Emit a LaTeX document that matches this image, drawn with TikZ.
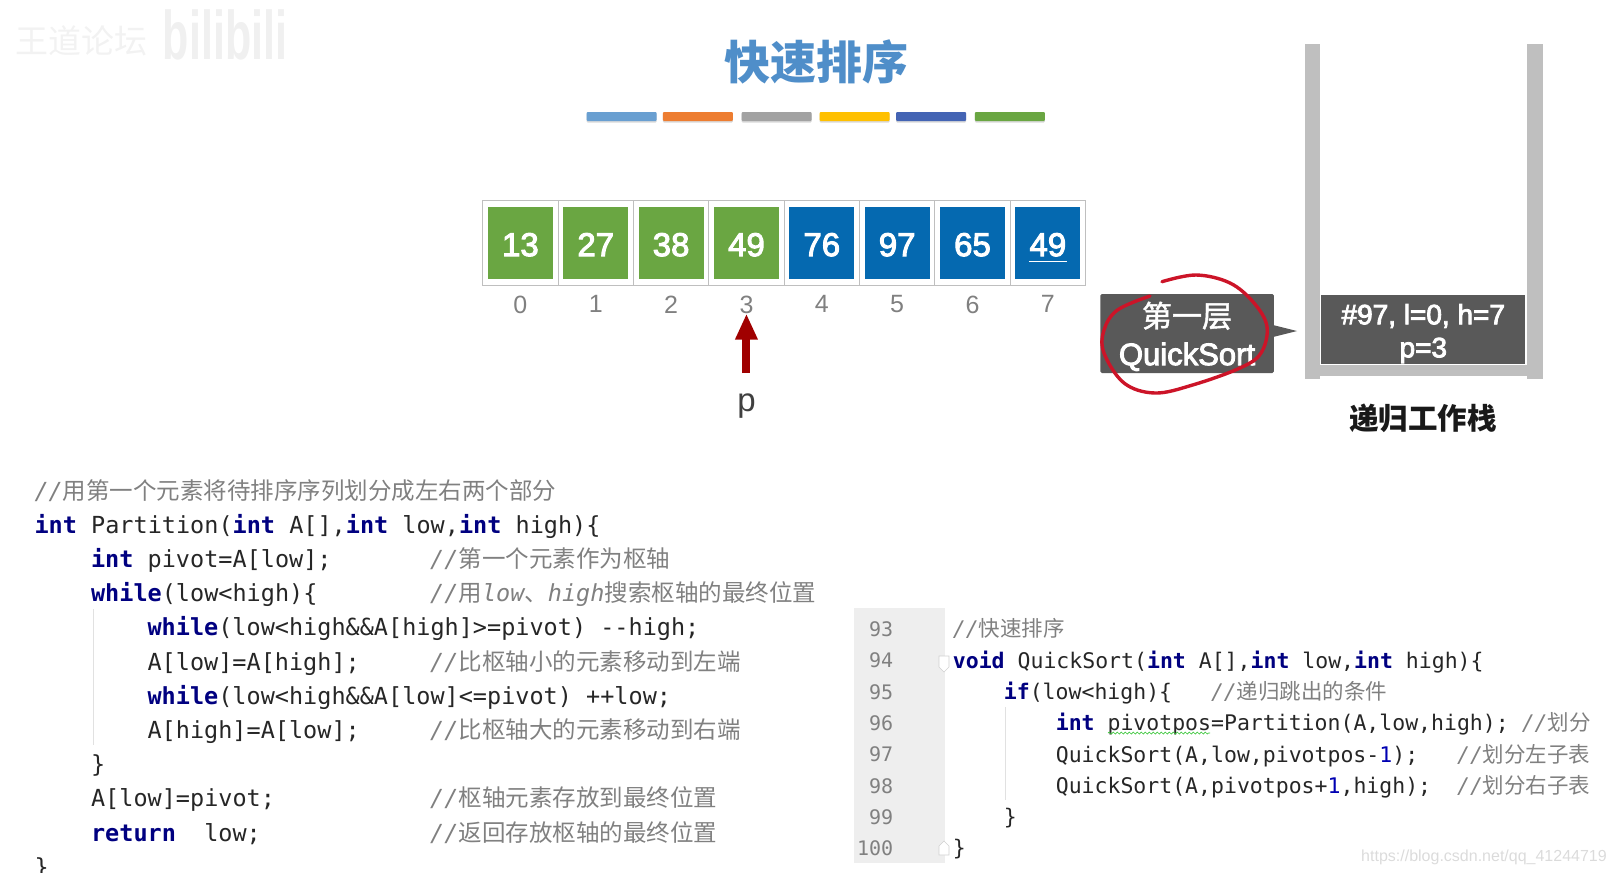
\documentclass[tikz,border=0pt]{standalone}
\usepackage{fontspec}
\setmainfont{Liberation Sans}
\setmonofont{DejaVu Sans Mono}
\newfontfamily\cjk{Noto Sans CJK SC}
\newfontfamily\semi[FakeBold=3]{Liberation Sans}
\newfontfamily\cjksemi[FakeBold=1.5]{Noto Sans CJK SC}
\usetikzlibrary{arrows.meta,positioning,shadows,decorations.pathmorphing}
\definecolor{TT}{RGB}{79,142,201}
\definecolor{GR}{RGB}{106,166,66}
\definecolor{BL}{RGB}{5,105,176}
\definecolor{DK}{RGB}{89,89,89}
\definecolor{WL}{RGB}{191,191,191}
\definecolor{RD}{RGB}{160,0,0}
\definecolor{PEN}{RGB}{204,20,40}
\definecolor{KW}{RGB}{0,0,128}
\definecolor{CM}{RGB}{128,128,128}
\definecolor{GUT}{RGB}{238,238,238}
\definecolor{GD}{RGB}{225,225,225}
\newcommand{\fs}[1]{\fontsize{#1}{#1}\selectfont}
\newcommand{\zh}[1]{{\cjk #1}}
\newcommand{\kw}[1]{{\bfseries\color{KW}#1}}
\newcommand{\cmt}[1]{{\color{CM}\itshape//\cjk #1}}
\tikzset{
  % array cells
  frm/.style={
    draw=black!25, fill=white, line width=0.8pt, outer sep=0pt,
    minimum width=75.35pt, minimum height=84.5pt, inner sep=0pt
  },
  valg/.style={
    fill=GR, minimum width=65pt, minimum height=72pt, inner sep=0pt,
    font=\semi\fs{33}, text=white, text height=26.6pt, text depth=0pt
  },
  valb/.style={valg, fill=BL},
  idx/.style={font=\fs{25}, text=CM, inner sep=0pt},
  % colour strip
  bar/.style={
    minimum width=70pt, minimum height=9pt, inner sep=0pt,
    rounded corners=1pt,
    drop shadow={shadow xshift=0pt, shadow yshift=-1.5pt, opacity=0.3}
  },
  % dark labels
  dkbox/.style={
    fill=DK, text=white, rounded corners=1.5pt, inner sep=0pt,
    align=center, font=\semi\fs{31}
  },
  wall/.style={fill=WL},
  % code lines
  code/.style={
    anchor=west, inner sep=0pt, text height=24pt, text depth=6pt,
    font=\ttfamily\fs{23.5}, text=black!85
  },
  rcode/.style={code, text height=21.7pt, font=\ttfamily\fs{21.5}},
  lno/.style={
    anchor=east, inner sep=0pt, text height=20pt, text depth=5pt,
    font=\ttfamily\fs{20}, text=CM
  },
  lineof/.style={below=34.2pt of #1, anchor=west},
  rlineof/.style={below=31.3pt of #1, anchor=west},
  nlineof/.style={below=31.3pt of #1, anchor=east},
  guide/.style={draw=GD, line width=0.8pt},
  fold/.style={draw=black!18, fill=white, line width=0.6pt},
}
\begin{document}
\begin{tikzpicture}[x=1pt, y=-1pt, node distance=0pt]
\useasboundingbox (0,0) rectangle (1615,873);

% ── Watermarks ───────────────────────────────────────────────────────────────
\node[font=\cjk\fs{33}, text=black!5] (wmA) at (82,41) {王道论坛};
\node[font=\bfseries\fs{43}, text=black!6, transform shape, yscale=1.6] (wmB) at (225,35) {bilibili};
\node[font=\fs{16}, text=black!14, inner sep=0pt] (wmC) at (1484,857) {https://blog.csdn.net/qq\_41244719};

% ── Title and strip ──────────────────────────────────────────────────────────
\node[font=\cjk\bfseries\fs{46}, text=TT] (title) at (816,62) {快速排序};
\node[bar, fill=TT!85!white] (b1) at (621.7,116.5) {};
\node[bar, fill={rgb,255:red,237;green,125;blue,49}, right=5.8pt of b1] (b2) {};
\node[bar, fill=WL!85!black, right=8.2pt of b2] (b3) {};
\node[bar, fill={rgb,255:red,255;green,192;blue,0}, right=7.6pt of b3] (b4) {};
\node[bar, fill={rgb,255:red,68;green,100;blue,180}, right=6.2pt of b4] (b5) {};
\node[bar, fill=GR, right=8.4pt of b5] (b6) {};

% ── Array ────────────────────────────────────────────────────────────────────
\node[frm] (f0) at (520.4,242.8) {};
\node[frm, right=of f0] (f1) {};
\node[frm, right=of f1] (f2) {};
\node[frm, right=of f2] (f3) {};
\node[frm, right=of f3] (f4) {};
\node[frm, right=of f4] (f5) {};
\node[frm, right=of f5] (f6) {};
\node[frm, right=of f6] (f7) {};

\node[valg] (v0) at (f0) {13};
\node[valg] (v1) at (f1) {27};
\node[valg] (v2) at (f2) {38};
\node[valg] (v3) at (f3) {49};
\node[valb] (v4) at (f4) {76};
\node[valb] (v5) at (f5) {97};
\node[valb] (v6) at (f6) {65};
\node[valb] (v7) at (f7) {49};
\draw[white, line width=1.3pt] ([xshift=-19pt,yshift=-19pt]v7.center) -- ([xshift=19pt,yshift=-19pt]v7.center);

\node[idx, below=10.5pt of f0] (i0) {0};
\node[idx, below=10.5pt of f1] (i1) {1};
\node[idx, below=10.5pt of f2] (i2) {2};
\node[idx, below=10.5pt of f3] (i3) {3};
\node[idx, below=10.5pt of f4] (i4) {4};
\node[idx, below=10.5pt of f5] (i5) {5};
\node[idx, below=10.5pt of f6] (i6) {6};
\node[idx, below=10.5pt of f7] (i7) {7};

% ── Pivot arrow ──────────────────────────────────────────────────────────────
\node[below=79.5pt of i3, inner sep=0pt, font=\fs{33}, text=black!75] (pv) {p};
\draw[-{Triangle[length=26pt,width=21pt]}, line width=8pt, RD, shorten <=20pt]
  (pv.north) -- (i3.south);

% ── Call label and stack ─────────────────────────────────────────────────────
\fill[DK] (1273,325) -- (1297,331) -- (1273,337) -- cycle;
\node[dkbox, minimum width=173.5pt, minimum height=79pt] (call) at (1187,333.5)
  {\rule{0pt}{31pt}{\cjksemi\fs{30}第一层}\\[7pt]QuickSort};

\fill[wall] (1304.6,44) rectangle (1319.6,379.3);
\fill[wall] (1527,44) rectangle (1542.5,379.3);
\fill[wall] (1319.6,365) rectangle (1527,376);
\node[dkbox, rounded corners=0pt, font=\semi\fs{28}, minimum width=204pt, minimum height=69.3pt] (frame) at (1423.3,329.7)
  {\rule{0pt}{28pt}\#97, l=0, h=7\\[5pt]p=3};
\node[font=\cjk\bfseries\fs{29.5}, text=black!90, inner sep=0pt] (stk) at (1423,418) {递归工作栈};

\draw[PEN, line width=3.4pt, line cap=round] plot[smooth, tension=0.6] coordinates {
  (1162,281.7) (1196,275) (1230,283) (1254,303) (1267,326.7) (1261,353) (1240,368)
  (1192.6,385) (1155,393) (1124,383) (1104,353) (1104,330) (1117.5,310) (1150,296)};

% ── Partition code ───────────────────────────────────────────────────────────
\coordinate (cc) at (430,0);
\draw[guide] (93.7,609) -- (93.7,745);
\node[code] (pA) at (34.4,490) {\cmt{用第一个元素将待排序序列划分成左右两个部分}};
\node[code, lineof=pA.west] (pB) {\kw{int} Partition(\kw{int} A[],\kw{int} low,\kw{int} high)\{};
\node[code, lineof=pB.west, xshift=56.5pt] (pC) {\kw{int} pivot=A[low];};
\node[code, lineof=pC.west] (pD) {\kw{while}(low<high)\{};
\node[code, lineof=pD.west, xshift=56.5pt] (pE) {\kw{while}(low<high\&\&A[high]>=pivot) --high;};
\node[code, lineof=pE.west] (pF) {A[low]=A[high];};
\node[code, lineof=pF.west] (pG) {\kw{while}(low<high\&\&A[low]<=pivot) ++low;};
\node[code, lineof=pG.west] (pH) {A[high]=A[low];};
\node[code, lineof=pH.west, xshift=-56.5pt] (pI) {\}};
\node[code, lineof=pI.west] (pJ) {A[low]=pivot;};
\node[code, lineof=pJ.west] (pK) {\kw{return}\ \ low;};
\node[code, lineof=pK.west, xshift=-56.5pt] (pL) {\}};

\node[code] (cC) at (cc |- pC.west) {\cmt{第一个元素作为枢轴}};
\node[code] (cD) at (cc |- pD.west) {{\color{CM}\itshape//\zh{用}low\zh{、}high\zh{搜索枢轴的最终位置}}};
\node[code] (cF) at (cc |- pF.west) {\cmt{比枢轴小的元素移动到左端}};
\node[code] (cH) at (cc |- pH.west) {\cmt{比枢轴大的元素移动到右端}};
\node[code] (cJ) at (cc |- pJ.west) {\cmt{枢轴元素存放到最终位置}};
\node[code] (cK) at (cc |- pK.west) {\cmt{返回存放枢轴的最终位置}};

% ── QuickSort code ───────────────────────────────────────────────────────────
\fill[GUT] (853.8,608) rectangle (944.8,863);
\draw[guide] (1005.5,707) -- (1005.5,800);
\node[lno] (n93) at (893.4,629) {93};
\node[lno, nlineof=n93.east] (n94) {94};
\node[lno, nlineof=n94.east] (n95) {95};
\node[lno, nlineof=n95.east] (n96) {96};
\node[lno, nlineof=n96.east] (n97) {97};
\node[lno, nlineof=n97.east] (n98) {98};
\node[lno, nlineof=n98.east] (n99) {99};
\node[lno, nlineof=n99.east] (n100) {100};

\node[rcode] (qA) at (952.7,629) {\cmt{快速排序}};
\node[rcode, rlineof=qA.west] (qB) {\kw{void} QuickSort(\kw{int} A[],\kw{int} low,\kw{int} high)\{};
\node[rcode, rlineof=qB.west, xshift=51pt] (qC) {\kw{if}(low<high)\{\ \ \ \cmt{递归跳出的条件}};
\node[rcode, rlineof=qC.west, xshift=51.9pt] (qD) {\kw{int} pivotpos=Partition(A,low,high); \cmt{划分}};
\node[rcode, rlineof=qD.west] (qE) {QuickSort(A,low,pivotpos-{\color{blue!70!black}1});\ \ \ \cmt{划分左子表}};
\node[rcode, rlineof=qE.west] (qF) {QuickSort(A,pivotpos+{\color{blue!70!black}1},high);\ \ \cmt{划分右子表}};
\node[rcode, rlineof=qF.west, xshift=-51.9pt] (qG) {\}};
\node[rcode, rlineof=qG.west, xshift=-51pt] (qH) {\}};

\draw[green!55!gray, line width=0.7pt, decorate, decoration={snake, amplitude=1pt, segment length=4pt}]
  (1108,733) -- (1210,733);
\draw[fold] (939,656) -- (949,656) -- (949,667) -- (944,672) -- (939,667) -- cycle;
\draw[fold] (939,855) -- (949,855) -- (949,846) -- (944,841) -- (939,846) -- cycle;

\end{tikzpicture}
\end{document}
